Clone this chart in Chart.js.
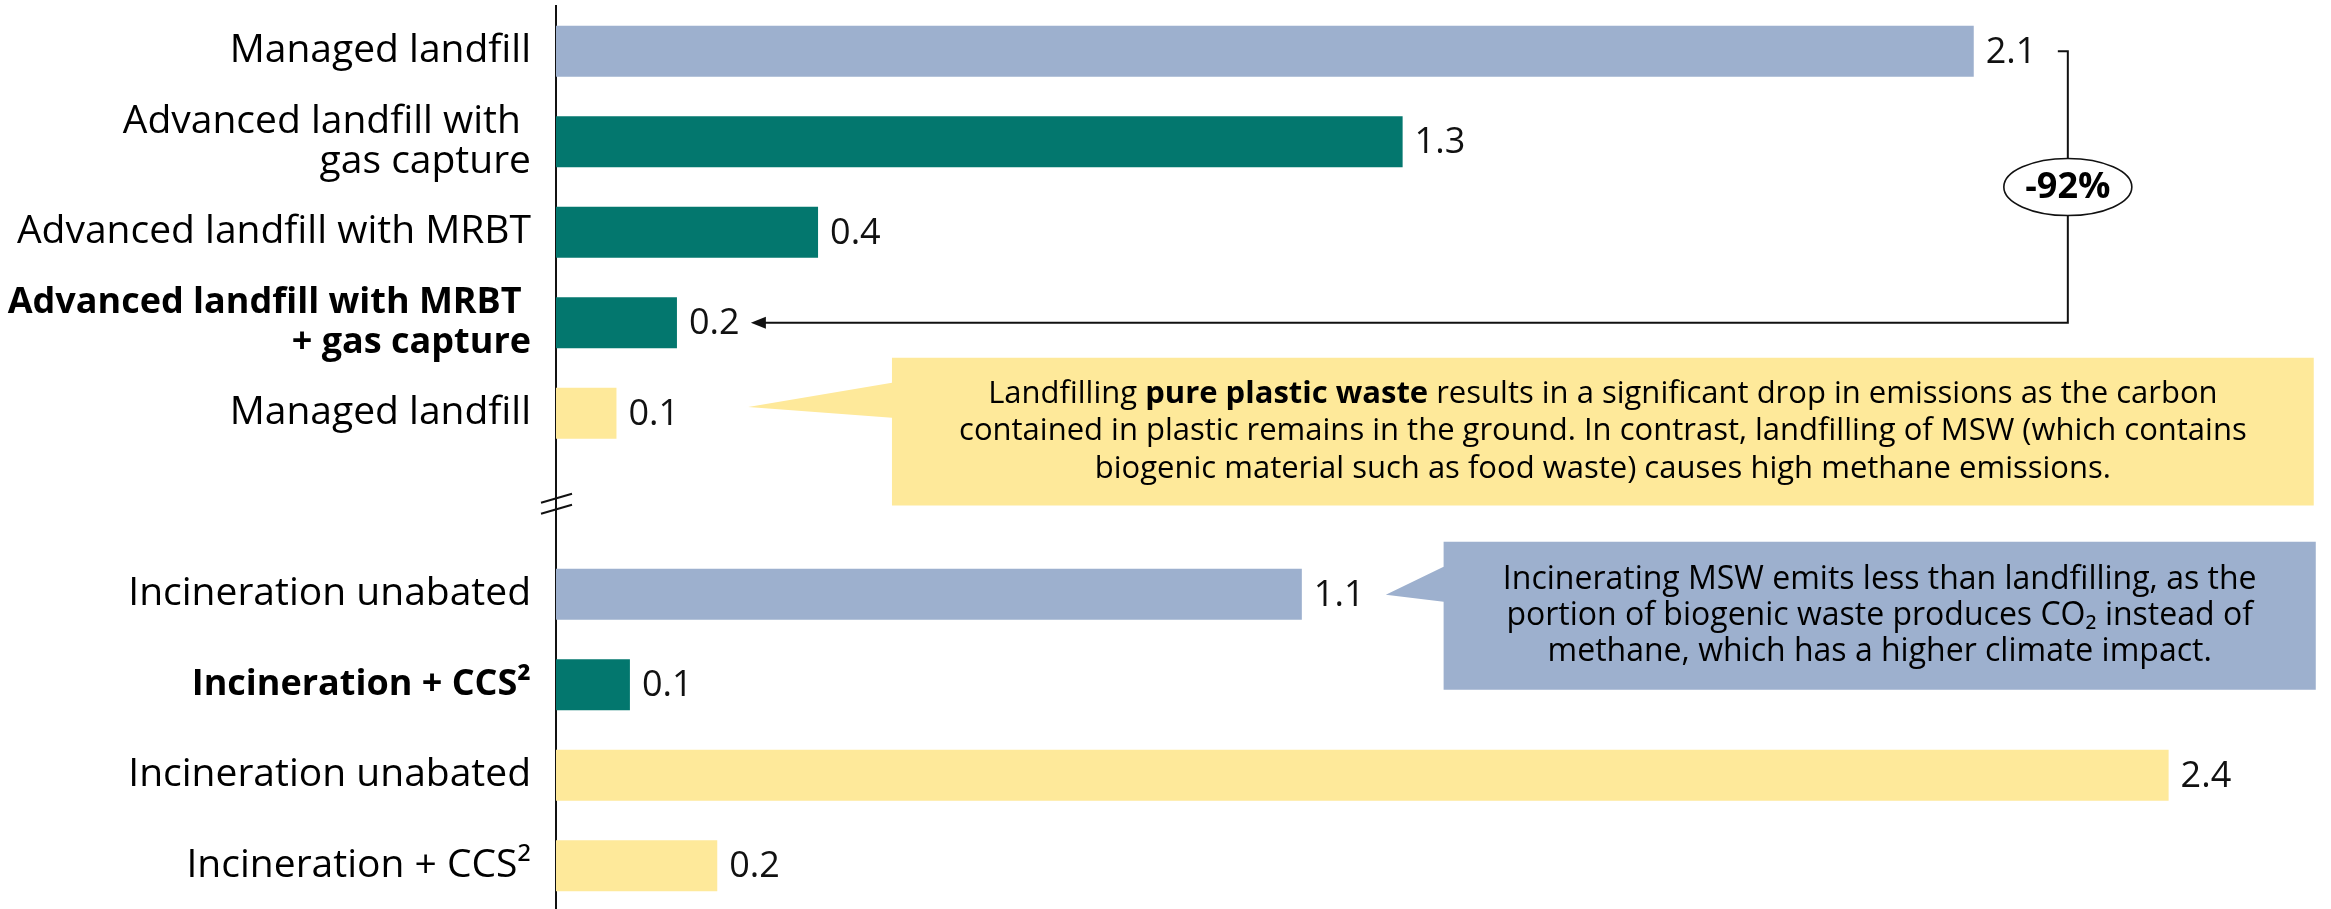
<!DOCTYPE html>
<html lang="en">
  <head>
    <meta charset="UTF-8" />
    <meta name="viewport" content="width=device-width, initial-scale=1.0" />
    <title>Emissions by waste treatment route</title>
    <script src="https://cdn.jsdelivr.net/npm/chart.js"></script>
    <style>
      html,
      body {
        margin: 0;
        padding: 0;
        background: #ffffff;
        overflow: hidden;
      }
      #chartContainer {
        width: 2331px;
        height: 912px;
        position: relative;
      }
    </style>
  </head>
  <body>
    <div id="chartContainer">
      <canvas id="myChart"></canvas>
    </div>
    <script>
      // rows top to bottom, the empty row is the axis break
      const categories = [
        ["Managed landfill"],
        ["Advanced landfill with ", "gas capture"],
        ["Advanced landfill with MRBT"],
        ["Advanced landfill with MRBT ", "+ gas capture"],
        ["Managed landfill"],
        [""],
        ["Incineration unabated"],
        ["Incineration + CCS²"],
        ["Incineration unabated"],
        ["Incineration + CCS²"],
      ];
      const emissions = [2.11, 1.26, 0.39, 0.18, 0.09, null, 1.11, 0.11, 2.4, 0.24];
      const wasteType = ["msw", "best", "best", "best", "plastic", null, "msw", "best", "plastic", "plastic"];
      const boldRows = [3, 7];

      const FONT = "'Open Sans', sans-serif";
      const colors = {
        msw: "#9DB0CE",
        best: "#03776E",
        plastic: "#FEE99A",
      };

      // draw a line of text made of plain/bold runs, centred on cx
      function drawRuns(ctx, runs, cx, cy, size) {
        let total = 0;
        const widths = runs.map((r) => {
          ctx.font = (r.bold ? "bold " : "") + size + "px " + FONT;
          const w = ctx.measureText(r.text).width;
          total += w;
          return w;
        });
        let xPos = cx - total / 2;
        ctx.textAlign = "left";
        ctx.textBaseline = "middle";
        runs.forEach((r, i) => {
          ctx.font = (r.bold ? "bold " : "") + size + "px " + FONT;
          ctx.fillText(r.text, xPos, cy);
          xPos += widths[i];
        });
      }

      // box with a pointer, positions in axis units (x value, y row index)
      function drawCallout(ctx, x, y, c) {
        const l = x.getPixelForValue(c.box[0]);
        const r = x.getPixelForValue(c.box[1]);
        const t = y.getPixelForValue(c.box[2]);
        const b = y.getPixelForValue(c.box[3]);
        ctx.save();
        ctx.fillStyle = c.color;
        ctx.beginPath();
        ctx.moveTo(l, t);
        ctx.lineTo(r, t);
        ctx.lineTo(r, b);
        ctx.lineTo(l, b);
        ctx.lineTo(l, y.getPixelForValue(c.base[1]));
        ctx.lineTo(x.getPixelForValue(c.tip[0]), y.getPixelForValue(c.tip[1]));
        ctx.lineTo(l, y.getPixelForValue(c.base[0]));
        ctx.closePath();
        ctx.fill();
        ctx.fillStyle = "#000";
        const cx = (l + r) / 2;
        const cy = (t + b) / 2;
        c.lines.forEach((runs, i) => {
          drawRuns(ctx, runs, cx, cy + (i - (c.lines.length - 1) / 2) * c.lineGap, c.size);
        });
        ctx.restore();
      }

      const valueLabels = {
        id: "valueLabels",
        afterDatasetsDraw(chart) {
          const ctx = chart.ctx;
          const meta = chart.getDatasetMeta(0);
          ctx.save();
          ctx.font = "36px " + FONT;
          ctx.fillStyle = "#111";
          ctx.textAlign = "left";
          ctx.textBaseline = "middle";
          meta.data.forEach((bar, i) => {
            if (emissions[i] == null) return;
            ctx.fillText(emissions[i].toFixed(1), bar.x + 12, bar.y + 1);
          });
          ctx.restore();
        },
      };

      const annotations = {
        id: "annotations",
        afterDraw(chart) {
          const ctx = chart.ctx;
          const { x, y } = chart.scales;

          // axis break
          const bx = x.getPixelForValue(0);
          const by = y.getPixelForValue(5);
          ctx.save();
          ctx.strokeStyle = "#111";
          ctx.lineWidth = 2;
          ctx.beginPath();
          ctx.moveTo(bx - 15, by - 1);
          ctx.lineTo(bx + 16, by - 10);
          ctx.moveTo(bx - 15, by + 10);
          ctx.lineTo(bx + 16, by + 1);
          ctx.stroke();

          // bracket from 2.1 down to 0.2 with arrow
          const kx = x.getPixelForValue(2.25);
          const y0 = y.getPixelForValue(0);
          const y3 = y.getPixelForValue(3);
          const tip = x.getPixelForValue(0.29);
          ctx.beginPath();
          ctx.moveTo(kx - 10, y0);
          ctx.lineTo(kx, y0);
          ctx.lineTo(kx, y3);
          ctx.lineTo(tip + 12, y3);
          ctx.stroke();
          ctx.fillStyle = "#111";
          ctx.beginPath();
          ctx.moveTo(tip, y3);
          ctx.lineTo(tip + 15, y3 - 6);
          ctx.lineTo(tip + 15, y3 + 6);
          ctx.closePath();
          ctx.fill();

          // -92% bubble
          const ey = (y0 + y3) / 2;
          ctx.beginPath();
          ctx.ellipse(kx, ey, 64, 28.5, 0, 0, Math.PI * 2);
          ctx.fillStyle = "#fff";
          ctx.fill();
          ctx.lineWidth = 1.6;
          ctx.stroke();
          ctx.fillStyle = "#000";
          ctx.font = "bold 36px " + FONT;
          ctx.textAlign = "center";
          ctx.textBaseline = "middle";
          ctx.fillText("-92%", kx, ey + 1);
          ctx.restore();

          drawCallout(ctx, x, y, {
            color: "#FEE99A",
            box: [0.5, 2.616, 3.387, 5.02],
            tip: [0.286, 3.93],
            base: [3.663, 4.05],
            size: 31,
            lineGap: 37.5,
            lines: [
              [
                { text: "Landfilling " },
                { text: "pure plastic waste", bold: true },
                { text: " results in a significant drop in emissions as the carbon" },
              ],
              [{ text: "contained in plastic remains in the ground. In contrast, landfilling of MSW (which contains" }],
              [{ text: "biogenic material such as food waste) causes high methane emissions." }],
            ],
          });

          drawCallout(ctx, x, y, {
            color: "#9DB0CE",
            box: [1.321, 2.619, 5.42, 7.055],
            tip: [1.235, 6.006],
            base: [5.696, 6.083],
            size: 32,
            lineGap: 36,
            lines: [
              [{ text: "Incinerating MSW emits less than landfilling, as the" }],
              [{ text: "portion of biogenic waste produces CO₂ instead of" }],
              [{ text: "methane, which has a higher climate impact." }],
            ],
          });
        },
      };

      const data = {
        labels: categories,
        datasets: [
          {
            label: "Emissions",
            data: emissions,
            backgroundColor: wasteType.map((t) => (t ? colors[t] : "transparent")),
            barPercentage: 1,
            categoryPercentage: 0.565,
          },
        ],
      };

      const options = {
        indexAxis: "y",
        responsive: true,
        maintainAspectRatio: false,
        animation: false,
        layout: {
          padding: { top: 6, right: 28, bottom: 1, left: 0 },
        },
        scales: {
          x: {
            display: false,
            min: 0,
            max: 2.6,
          },
          y: {
            z: 1,
            afterFit: (scale) => {
              scale.width = 556;
              scale.paddingTop = 0;
              scale.paddingBottom = 0;
            },
            grid: { display: false, drawTicks: false },
            border: { display: true, color: "#111", width: 2 },
            ticks: {
              autoSkip: false,
              padding: 25,
              color: "#000",
              font: (c) => {
                const bold = boldRows.includes(c.index);
                return {
                  family: FONT,
                  size: bold ? 36 : 39,
                  lineHeight: bold ? 1.13 : 1.04,
                  weight: bold ? "bold" : "normal",
                };
              },
            },
          },
        },
        plugins: {
          legend: { display: false },
          tooltip: { enabled: false },
        },
      };

      new Chart(document.getElementById("myChart"), {
        type: "bar",
        data: data,
        options: options,
        plugins: [valueLabels, annotations],
      });
    </script>
  </body>
</html>
